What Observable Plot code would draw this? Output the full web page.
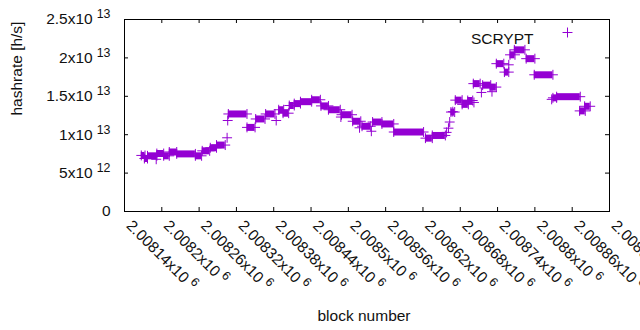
<!DOCTYPE html>
<html><head><meta charset="utf-8">
<script src="https://cdn.jsdelivr.net/npm/d3@7"></script>
<script src="https://cdn.jsdelivr.net/npm/@observablehq/plot@0.6"></script>
<style>
body{margin:0;background:#fff;}
svg{font-family:"Liberation Sans",Arial,sans-serif;}
</style>
</head><body><div id="chart"></div>
<script>
// Runs of blocks sharing the same hashrate (start block, end block, value)
const runStart = [2008167,2008172,2008177,2008192,2008203,2008212,2008224,2008254,2008265,2008278,2008288,
  2008307,2008337,2008351,2008367,2008388,2008395,2008405,2008413,2008423,2008441,2008456,2008468,2008489,
  2008507,2008522,2008539,2008554,2008573,2008624,2008635,2008665,2008672,2008683,2008692,2008701,2008716,
  2008728,2008738,2008751,2008760,2008767,2008786,2008799,2008829,2008835,2008872,2008880];
const runEnd = [2008173,2008177,2008192,2008203,2008212,2008224,2008254,2008264,2008277,2008288,2008302,
  2008337,2008350,2008366,2008382,2008396,2008404,2008413,2008423,2008441,2008455,2008468,2008487,2008506,
  2008520,2008536,2008554,2008573,2008621,2008635,2008656,2008671,2008683,2008693,2008700,2008712,2008729,
  2008738,2008750,2008758,2008768,2008784,2008800,2008829,2008835,2008873,2008881,2008889];
const runValue = [7.3e12,6.9e12,7.25e12,7.55e12,7.25e12,7.75e12,7.5e12,7.25e12,7.9e12,8.3e12,8.65e12,
  12.7e12,10.95e12,12.05e12,12.7e12,13.25e12,12.8e12,13.8e12,14.05e12,14.3e12,14.55e12,13.75e12,13.25e12,12.6e12,
  11.75e12,11.1e12,11.65e12,11.4e12,10.35e12,9.55e12,9.9e12,12.95e12,14.5e12,13.95e12,14.45e12,16.65e12,16.45e12,
  16.2e12,19.25e12,18.15e12,20.4e12,21.05e12,19.9e12,17.8e12,14.8e12,14.95e12,13.1e12,13.7e12];
// Isolated blocks
const singleBlock = [2008191,2008305,2008306,2008384,2008488,2008518,2008537,2008658,2008661,2008663,2008668,
  2008702,2008714,2008731,2008758,2008827];
const singleValue = [6.8e12,9.6e12,11.85e12,11.85e12,12.3e12,10.9e12,10.45e12,10.3e12,10.85e12,11.65e12,13.0e12,
  14.2e12,15.5e12,15.6e12,19.1e12,14.6e12];

const xTickValues = [2008140,2008200,2008260,2008320,2008380,2008440,2008500,2008560,2008620,2008680,2008740,2008800,2008860,2008920];
const xTickLabels = ["2.00814x10^6","2.0082x10^6","2.00826x10^6","2.00832x10^6","2.00838x10^6","2.00844x10^6","2.0085x10^6",
  "2.00856x10^6","2.00862x10^6","2.00868x10^6","2.00874x10^6","2.0088x10^6","2.00886x10^6","2.00892x10^6"];
const yTickValues = [0,5e12,1e13,1.5e13,2e13,2.5e13];
const yTickLabels = ["0","5x10^12","1x10^13","1.5x10^13","2x10^13","2.5x10^13"];
const seriesName = "SCRYPT";

const color = "#9400d3";
const runs = runStart.map((s,i)=>({start:s,end:runEnd[i],value:runValue[i]}));
const ends = runs.flatMap(r=>[{b:r.start,v:r.value},{b:r.end,v:r.value}]);
const singles = singleBlock.map((b,i)=>({b,v:singleValue[i]}));
const xt = xTickValues.map((v,i)=>({v,label:xTickLabels[i]}));
const yt = yTickValues.map((v,i)=>({v,label:yTickLabels[i]}));
const FS = 15.5;
const W = 640, H = 330, mL = 124, mR = 31, mT = 19, mB = 119;
const pw = W-mL-mR, ph = H-mT-mB, tk = 4;
const ink = "#111";

const chart = Plot.plot({
  width: W, height: H, marginLeft: mL, marginRight: mR, marginTop: mT, marginBottom: mB,
  style: {fontFamily: '"Liberation Sans", Arial, sans-serif', background: "#fff"},
  x: {domain: [2008140, 2008920], axis: null},
  y: {domain: [0, 2.5e13], axis: null},
  marks: [
    Plot.ruleY(runs, {x1: "start", x2: "end", y: "value", stroke: color, strokeWidth: 7}),
    Plot.dot(ends, {x: "b", y: "v", symbol: "plus", r: 3.3, stroke: color, strokeWidth: 1}),
    Plot.dot(singles, {x: "b", y: "v", symbol: "plus", r: 3.3, stroke: color, strokeWidth: 1}),
    Plot.tickX(xt, {x: "v", stroke: "black", insetBottom: ph - tk}),
    Plot.tickX(xt, {x: "v", stroke: "black", insetTop: ph - tk}),
    Plot.tickY(yt, {y: "v", stroke: "black", insetRight: pw - tk}),
    Plot.tickY(yt, {y: "v", stroke: "black", insetLeft: pw - tk}),
    Plot.frame({stroke: "black", strokeWidth: 1}),
    Plot.text(yt, {y: "v", text: "label", frameAnchor: "left", dx: -14, textAnchor: "end", fontSize: FS, fill: ink}),
    Plot.text(xt, {x: "v", text: "label", frameAnchor: "bottom", dx: 1, dy: 15, rotate: 45, textAnchor: "start", fontSize: FS, fill: ink}),
    Plot.text(["hashrate [h/s]"], {frameAnchor: "left", dx: -107, rotate: -90, fontSize: FS, fill: ink}),
    Plot.text(["block number"], {frameAnchor: "bottom", dx: -3, dy: 109, fontSize: FS, fill: ink}),
    Plot.text([seriesName], {frameAnchor: "top-right", dx: -76, dy: 13, textAnchor: "end", fontSize: FS, fill: ink}),
    Plot.dot([seriesName], {x: null, y: null, frameAnchor: "top-right", dx: -42, dy: 13, symbol: "plus", r: 3.3, stroke: color, strokeWidth: 1})
  ]
});
// superscripts: "a^b" -> a + raised b
d3.select(chart).selectAll("text").each(function(){
  const t = this.textContent;
  if (t.includes("^")) {
    const [m, e] = t.split("^");
    this.textContent = m;
    d3.select(this).append("tspan").attr("dx", 4).attr("dy", -6).attr("font-size", FS*0.8).text(e);
  }
});
document.getElementById("chart").appendChild(chart);
</script>
</body></html>
